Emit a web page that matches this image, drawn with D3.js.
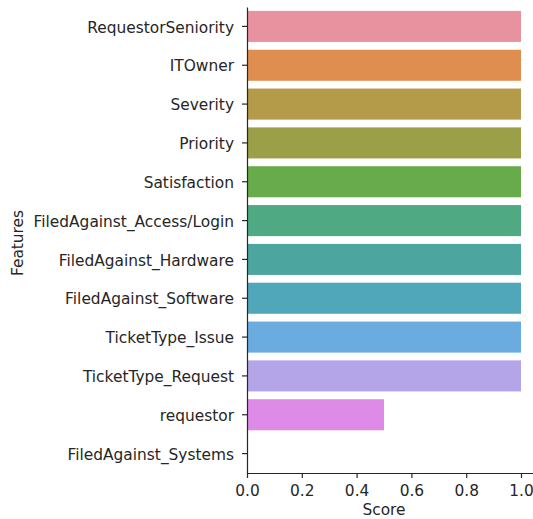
<!DOCTYPE html>
<html>
<head>
  <meta charset="utf-8">
  <title>Feature scores</title>
  <style>
    html, body { margin: 0; padding: 0; background: #fff; overflow: hidden; }
    svg { display: block; }
    text { font-family: "DejaVu Sans", sans-serif; fill: #262626; }
    .axis path, .axis line { stroke: #262626; stroke-width: 1.2; }
  </style>
  <script src="https://d3js.org/d3.v7.min.js"></script>
</head>
<body>
<svg width="533" height="519"></svg>
<script>
// data
var features = ["RequestorSeniority", "ITOwner", "Severity", "Priority", "Satisfaction",
    "FiledAgainst_Access/Login", "FiledAgainst_Hardware", "FiledAgainst_Software",
    "TicketType_Issue", "TicketType_Request", "requestor", "FiledAgainst_Systems"];
var scores = [1, 1, 1, 1, 1, 1, 1, 1, 1, 1, 0.5, 0];
var colors = ["#e8929f", "#df8e50", "#b49b49", "#9a9f48", "#67ab4c", "#4faa84",
    "#4ca69f", "#50a7b9", "#6aabe0", "#b4a4e8", "#dd8be6", "#e48dc4"];
var xTicks = [0, 0.2, 0.4, 0.6, 0.8, 1.0];

var data = features.map(function(f, i) { return {name: f, score: scores[i], color: colors[i]}; });

var svg = d3.select("svg");
var plotLeft = 247, plotTop = 7, plotBottom = 473;
var fontSize = "15.4px";

var x = d3.scaleLinear().domain([0, 1.05]).range([plotLeft, plotLeft + 274 * 1.05]);
var y = d3.scaleBand().domain(features).range([plotTop, plotBottom]).paddingInner(0.2).paddingOuter(0.1);

svg.append("g").selectAll("rect")
  .data(data)
  .enter().append("rect")
    .attr("x", x(0))
    .attr("y", function(d) { return y(d.name); })
    .attr("width", function(d) { return x(d.score) - x(0); })
    .attr("height", y.bandwidth())
    .attr("fill", function(d) { return d.color; });

svg.append("g")
    .attr("class", "axis")
    .attr("transform", "translate(" + plotLeft + ",0)")
    .call(d3.axisLeft(y).tickSize(5).tickPadding(8).tickSizeOuter(0))
    .call(function(g) { g.selectAll("text").style("font-size", fontSize).attr("dy", "0.4em"); });

svg.append("g")
    .attr("class", "axis")
    .attr("transform", "translate(0," + plotBottom + ")")
    .call(d3.axisBottom(x).tickValues(xTicks).tickFormat(d3.format(".1f")).tickSize(5).tickPadding(7).tickSizeOuter(0))
    .call(function(g) { g.selectAll("text").style("font-size", fontSize); });

svg.append("text")
    .attr("x", x(0.5))
    .attr("y", 515)
    .attr("text-anchor", "middle")
    .style("font-size", fontSize)
    .text("Score");

svg.append("text")
    .attr("transform", "translate(23," + ((plotTop + plotBottom) / 2 + 3) + ") rotate(-90)")
    .attr("text-anchor", "middle")
    .style("font-size", fontSize)
    .text("Features");
</script>
</body>
</html>
